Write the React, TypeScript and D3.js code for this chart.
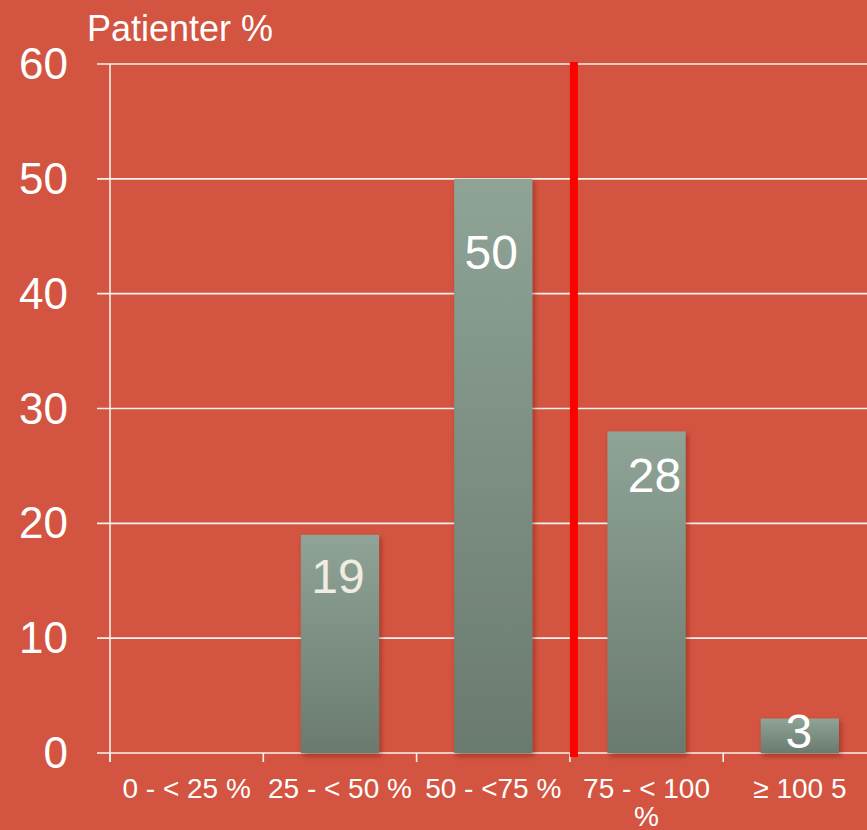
import React, { useMemo } from "react";
import * as d3 from "d3";

// chart data
const categories = ["0 - < 25 %", "25 - < 50 %", "50 - <75 %", "75 - < 100 %", "≥ 100 5"];
const values = [null, 19, 50, 28, 3];
const yTicks = [0, 10, 20, 30, 40, 50, 60];
const yTitle = "Patienter %";
const thresholdCategory = "75 - < 100 %";

const width = 867;
const height = 830;
const margin = { top: 64, left: 110, bottom: 77 };
const bg = "#d35440";
const font = "Arial, 'Liberation Sans', sans-serif";

// label placement tweaks (baseline below bar top, horizontal nudge) to follow the original slide
const labelDy = [0, 58, 90, 61, 29];
const labelDx = [0, -2, -2, 8, -1];

function wrapLabel(text: string, maxW: number, fontSize: number): string[] {
  const ctx = document.createElement("canvas").getContext("2d");
  if (!ctx) return [text];
  ctx.font = `${fontSize}px Arial, 'Liberation Sans', sans-serif`;
  const words = text.split(" ");
  const lines: string[] = [];
  let cur = "";
  words.forEach((w) => {
    const test = cur ? cur + " " + w : w;
    if (ctx.measureText(test).width > maxW && cur) {
      lines.push(cur);
      cur = w;
    } else cur = test;
  });
  if (cur) lines.push(cur);
  return lines;
}

export default function App() {
  const step = 153.3;
  const x = useMemo(
    () => d3.scaleBand<string>().domain(categories).range([margin.left, margin.left + step * categories.length]).padding(0),
    []
  );
  const y = useMemo(
    () => d3.scaleLinear().domain([0, 60]).range([height - margin.bottom, margin.top]),
    []
  );
  const barW = x.bandwidth() * 0.51;
  const y0 = y(0);
  const boundaries = categories.map((c) => x(c) as number);
  const redX = (x(thresholdCategory) as number) + 4;

  return (
    <div style={{ position: "fixed", left: 0, top: 0, width, height }}>
      <svg width={width} height={height} style={{ display: "block", fontFamily: font }}>
        <defs>
          <linearGradient id="barGrad" x1="0" y1="0" x2="0" y2="1">
            <stop offset="0%" stopColor="#8fa397" />
            <stop offset="100%" stopColor="#6a7a6e" />
          </linearGradient>
          <filter id="shadow" x="-20%" y="-20%" width="140%" height="140%">
            <feDropShadow dx="2" dy="3" stdDeviation="2.5" floodColor="#5a1a10" floodOpacity="0.45" />
          </filter>
        </defs>
        <rect x={0} y={0} width={width} height={height} fill={bg} />

        {/* gridlines + y labels */}
        {yTicks.map((t) => (
          <g key={t}>
            <line x1={97} x2={width} y1={y(t)} y2={y(t)} stroke="#f4f0ec" strokeWidth={1.6} />
            <text x={68} y={y(t) + 15} textAnchor="end" fontSize={44} fill="#ffffff">
              {t}
            </text>
          </g>
        ))}

        {/* y axis */}
        <line x1={margin.left} x2={margin.left} y1={y(60)} y2={y0 + 9} stroke="#f4f0ec" strokeWidth={1.6} />

        {/* x ticks */}
        {boundaries.map((bx, i) => (
          <line key={i} x1={bx} x2={bx} y1={y0} y2={y0 + 9} stroke="#f4f0ec" strokeWidth={1.6} />
        ))}

        {/* bars */}
        {categories.map((c, i) => {
          const v = values[i];
          if (v == null) return null;
          const cx = (x(c) as number) + x.bandwidth() / 2;
          return (
            <rect
              key={c}
              x={cx - barW / 2}
              y={y(v)}
              width={barW}
              height={y0 - y(v)}
              fill="url(#barGrad)"
              filter="url(#shadow)"
            />
          );
        })}

        {/* bar labels */}
        {categories.map((c, i) => {
          const v = values[i];
          if (v == null) return null;
          const cx = (x(c) as number) + x.bandwidth() / 2;
          return (
            <text
              key={c}
              x={cx + labelDx[i]}
              y={y(v) + labelDy[i]}
              textAnchor="middle"
              fontSize={48}
              fill={i === 1 ? "#f1ece2" : "#ffffff"}
            >
              {v}
            </text>
          );
        })}

        {/* threshold line */}
        <line x1={redX} x2={redX} y1={62} y2={y0 + 4} stroke="#ff0000" strokeWidth={8} />

        {/* x labels */}
        {categories.map((c) => {
          const cx = (x(c) as number) + x.bandwidth() / 2;
          const lines = wrapLabel(c, 150, 28);
          return (
            <text key={c} x={cx} y={798} textAnchor="middle" fontSize={28} fill="#ffffff">
              {lines.map((l, j) => (
                <tspan key={j} x={cx} dy={j === 0 ? 0 : 28}>
                  {l}
                </tspan>
              ))}
            </text>
          );
        })}

        {/* y title */}
        <text x={87} y={41} fontSize={36} fill="#ffffff">
          {yTitle}
        </text>
      </svg>
    </div>
  );
}
